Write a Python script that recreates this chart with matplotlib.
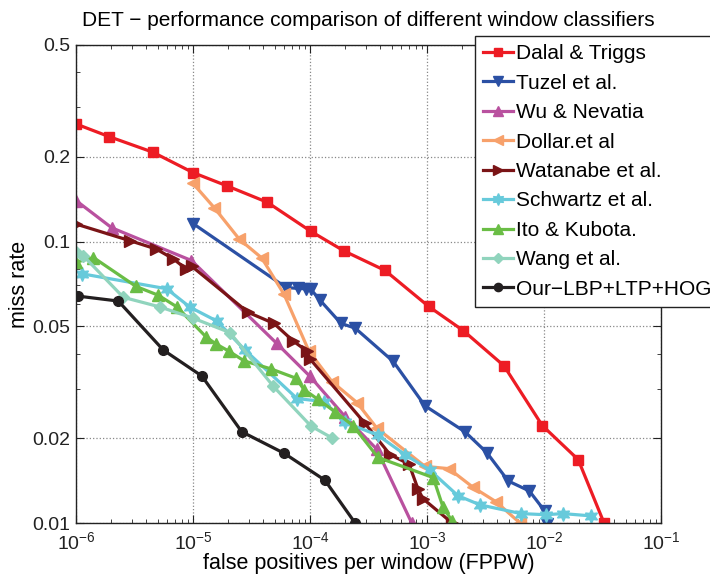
import matplotlib
matplotlib.use("Agg")
import matplotlib.pyplot as plt
from matplotlib.ticker import FixedLocator, FixedFormatter, LogLocator, NullFormatter

plt.rcParams['font.family'] = ['Liberation Sans', 'DejaVu Sans']
plt.rcParams['mathtext.fontset'] = 'custom'
plt.rcParams['mathtext.rm'] = 'Liberation Sans'

# --- data (fppw, miss rate) ---
dalal_x = [1.0e-6, 1.93e-6, 4.53e-6, 1.0e-5, 1.94e-5, 4.32e-5, 1.01e-4, 1.95e-4, 4.38e-4,
           1.03e-3, 2.04e-3, 4.55e-3, 9.67e-3, 1.96e-2, 3.26e-2]
dalal_y = [0.262, 0.236, 0.208, 0.176, 0.158, 0.138, 0.109, 0.0927, 0.079,
           0.0589, 0.0483, 0.0362, 0.0222, 0.0168, 0.010]

tuzel_x = [1.0e-5, 6.24e-5, 7.9e-5, 9.2e-5, 1.02e-4, 1.22e-4, 1.84e-4, 2.43e-4, 5.15e-4,
           9.6e-4, 2.11e-3, 3.24e-3, 4.95e-3, 7.49e-3, 1.02e-2, 1.07e-2]
tuzel_y = [0.116, 0.0687, 0.0682, 0.068, 0.0676, 0.0619, 0.0512, 0.0493, 0.0375,
           0.0261, 0.0211, 0.0178, 0.0141, 0.013, 0.011, 0.0099]

wu_x = [1.0e-6, 2.02e-6, 9.7e-6, 5.19e-5, 1.0e-4, 1.99e-4, 3.72e-4, 7.4e-4]
wu_y = [0.140, 0.112, 0.0857, 0.0435, 0.0332, 0.0239, 0.0183, 0.010]

dollar_x = [1.0e-5, 1.52e-5, 2.49e-5, 3.87e-5, 6.0e-5, 9.8e-5, 1.54e-4, 2.52e-4, 3.74e-4,
            9.6e-4, 1.54e-3, 2.47e-3, 3.89e-3, 6.23e-3]
dollar_y = [0.161, 0.132, 0.102, 0.0875, 0.065, 0.0408, 0.0318, 0.0268, 0.0217,
            0.0159, 0.0156, 0.0134, 0.0119, 0.010]

watanabe_x = [1.0e-6, 2.89e-6, 4.83e-6, 6.79e-6, 8.71e-6, 9.8e-6, 2.95e-5, 4.92e-5, 7.2e-5,
              9.37e-5, 1.0e-4, 2.95e-4, 4.83e-4, 7.02e-4, 8.38e-4, 9.24e-4, 1.64e-3]
watanabe_y = [0.1155, 0.1008, 0.0942, 0.0869, 0.080, 0.0816, 0.0561, 0.0512, 0.0443,
              0.0409, 0.0383, 0.0226, 0.0175, 0.0162, 0.0132, 0.0122, 0.010]

schwartz_x = [1.12e-6, 5.96e-6, 9.42e-6, 1.60e-5, 2.78e-5, 7.74e-5, 1.32e-4, 1.99e-4, 3.81e-4,
              6.49e-4, 1.06e-3, 1.84e-3, 2.84e-3, 6.36e-3, 1.04e-2, 1.45e-2, 2.52e-2]
schwartz_y = [0.0769, 0.068, 0.0585, 0.0522, 0.0412, 0.0277, 0.027, 0.0228, 0.0205,
              0.0175, 0.0154, 0.0125, 0.0116, 0.0108, 0.0107, 0.0108, 0.0106]

ito_x = [1.0e-6, 1.41e-6, 3.26e-6, 5.05e-6, 7.3e-6, 1.29e-5, 1.57e-5, 2.03e-5, 2.73e-5,
         4.64e-5, 7.59e-5, 8.89e-5, 1.17e-4, 1.65e-4, 2.33e-4, 3.81e-4, 1.13e-3, 1.37e-3, 1.63e-3]
ito_y = [0.0845, 0.0878, 0.0693, 0.0645, 0.0586, 0.0459, 0.0433, 0.0408, 0.0377,
         0.0353, 0.0327, 0.0298, 0.0275, 0.0248, 0.0222, 0.0171, 0.0145, 0.0114, 0.0102]

wang_x = [1.0e-6, 1.15e-6, 2.54e-6, 5.22e-6, 1.0e-5, 2.07e-5, 4.86e-5, 1.02e-4, 1.53e-4]
wang_y = [0.0916, 0.0892, 0.0634, 0.0586, 0.0535, 0.0475, 0.0306, 0.0221, 0.0201]

our_x = [1.05e-6, 2.3e-6, 5.57e-6, 1.19e-5, 2.61e-5, 6.0e-5, 1.34e-4, 2.43e-4]
our_y = [0.064, 0.0615, 0.0412, 0.0333, 0.0211, 0.0177, 0.0142, 0.010]

labels = ['Dalal & Triggs', 'Tuzel et al.', 'Wu & Nevatia', 'Dollar.et al', 'Watanabe et al.',
          'Schwartz et al.', 'Ito & Kubota.', 'Wang et al.', 'Our\u2212LBP+LTP+HOG']

yticks = [0.01, 0.02, 0.05, 0.1, 0.2, 0.5]
ytick_labels = ['0.01', '0.02', '0.05', '0.1', '0.2', '0.5']

# style per curve: colour, marker, marker size
estilos = [('#ED1C24', 's', 7),
           ('#2B50A4', 'v', 8),
           ('#B9519F', '^', 8),
           ('#F7A16B', '<', 8),
           ('#7A1416', '>', 8),
           ('#67CADB', (6, 1, 0), 10),
           ('#6ABD45', '^', 8),
           ('#90D4BD', 'D', 6),
           ('#231F20', 'o', 7)]

series = [(dalal_x, dalal_y), (tuzel_x, tuzel_y), (wu_x, wu_y), (dollar_x, dollar_y),
          (watanabe_x, watanabe_y), (schwartz_x, schwartz_y), (ito_x, ito_y),
          (wang_x, wang_y), (our_x, our_y)]

fig = plt.figure(figsize=(7.1, 5.75), dpi=100)
ax = fig.add_axes([76/710, 1-523/575, (661-76)/710, (523-45)/575])

for (xs, ys), lab, (col, mk, ms) in zip(series, labels, estilos):
    ax.plot(xs, ys, color=col, marker=mk, markersize=ms, linewidth=2.3,
            markeredgecolor=col, label=lab, clip_on=True)

ax.set_xscale('log')
ax.set_yscale('log')
ax.set_xlim(1e-6, 1e-1)
ax.set_ylim(0.01, 0.5)

ax.yaxis.set_major_locator(FixedLocator(yticks))
ax.yaxis.set_major_formatter(FixedFormatter(ytick_labels))
ax.yaxis.set_minor_locator(LogLocator(base=10, subs=range(2, 10)))
ax.yaxis.set_minor_formatter(NullFormatter())
ax.xaxis.set_minor_locator(LogLocator(base=10, subs=range(2, 10)))
ax.xaxis.set_minor_formatter(NullFormatter())

ax.grid(True, which='major', linestyle=':', color='#888888', linewidth=0.9)
ax.tick_params(which='both', direction='in', top=True, right=True, labelsize=14,
               colors='#222222')
ax.tick_params(which='major', length=6)
ax.tick_params(which='minor', length=3)
ax.tick_params(axis='x', which='major', pad=6)
ax.tick_params(axis='y', which='major', pad=4)
for s in ax.spines.values():
    s.set_color('#222222')
    s.set_linewidth(1.0)

ax.set_title('DET \u2212 performance comparison of different window classifiers',
             fontsize=15, pad=14)
ax.set_xlabel('false positives per window (FPPW)', fontsize=15.5, labelpad=0)
ax.set_ylabel('miss rate', fontsize=15.5, labelpad=2)

leg = ax.legend(loc='upper left', bbox_to_anchor=(475/710, 1-36/575),
                bbox_transform=fig.transFigure, borderaxespad=0, fontsize=15,
                handlelength=1.4, handletextpad=0.15, labelspacing=0.5, borderpad=0.4,
                fancybox=False, framealpha=1, edgecolor='#222222', markerscale=0.85)
leg.get_frame().set_linewidth(1.0)

fig.savefig('out.png', dpi=100)
